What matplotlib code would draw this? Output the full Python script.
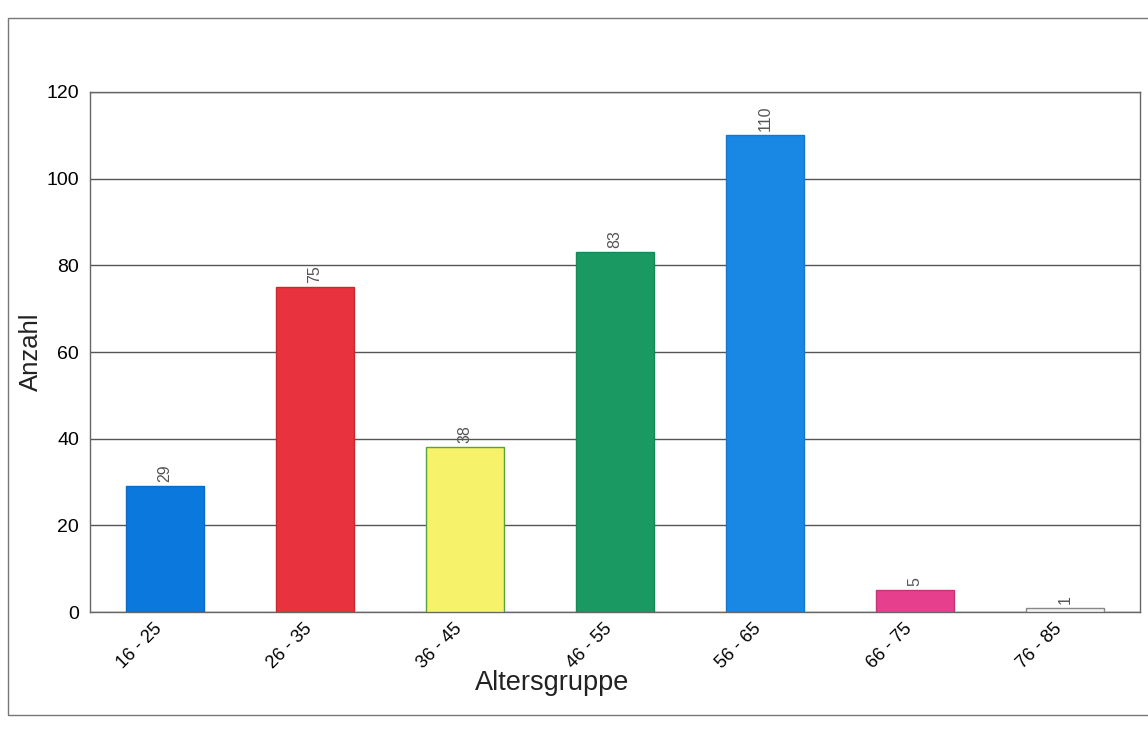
import matplotlib.pyplot as plt
from matplotlib.patches import Rectangle
from matplotlib.transforms import ScaledTranslation

plt.rcParams['font.family'] = ['Liberation Sans', 'DejaVu Sans']

gruppen = ['16 - 25', '26 - 35', '36 - 45', '46 - 55', '56 - 65', '66 - 75', '76 - 85']
anzahl = [29, 75, 38, 83, 110, 5, 1]
farben = ['#0a78dc', '#e8323e', '#f6f26a', '#1a9a62', '#1888e4', '#e63f8e', '#f4f4f4']
kanten = ['#0a6cc4', '#c8282e', '#5aa03c', '#17885a', '#1478cc', '#c83276', '#888888']

fig = plt.figure(figsize=(11.48, 7.3), dpi=100)
ax = fig.add_axes([0.0784, 0.1616, 0.9146, 0.7124])

x = range(len(gruppen))
bars = ax.bar(x, anzahl, width=0.52, color=farben, edgecolor=kanten, linewidth=1, zorder=3)

for b, n in zip(bars, anzahl):
    ax.annotate(str(n), (b.get_x() + b.get_width() / 2, b.get_height()),
                xytext=(0, 3), textcoords='offset points', rotation=90,
                ha='center', va='bottom', fontsize=11.5, color='#555555', zorder=4)

ax.set_xlim(-0.5, len(gruppen) - 0.5)
ax.set_ylim(0, 120)
ax.set_yticks(range(0, 121, 20))
ax.set_xticks(list(x))
ax.set_xticklabels(gruppen, rotation=45, ha='right', rotation_mode='anchor', fontsize=13)
ax.tick_params(axis='y', labelsize=14, length=0, pad=8)
ax.tick_params(axis='x', length=0, pad=6)
# pull the slanted labels a little to the left of each bar centre
shift = ScaledTranslation(-0.12, 0.0, fig.dpi_scale_trans)
for lab in ax.get_xticklabels():
    lab.set_transform(lab.get_transform() + shift)
ax.grid(axis='y', color='#555555', linewidth=1, zorder=0)
for s in ax.spines.values():
    s.set_color('#666666')
    s.set_linewidth(1)

ax.set_xlabel('Altersgruppe', fontsize=19.5, color='#222222', labelpad=0)
ax.xaxis.set_label_coords(0.44, -0.112)
ax.set_ylabel('Anzahl', fontsize=18.5, color='#222222')
ax.yaxis.set_label_coords(-0.045, 0.5)

# thin frame around the whole chart
fig.patches.append(Rectangle((0.007, 0.0205), 1.0, 0.955, transform=fig.transFigure,
                             fill=False, edgecolor='#777777', linewidth=1))

fig.savefig('out.png', dpi=100)
